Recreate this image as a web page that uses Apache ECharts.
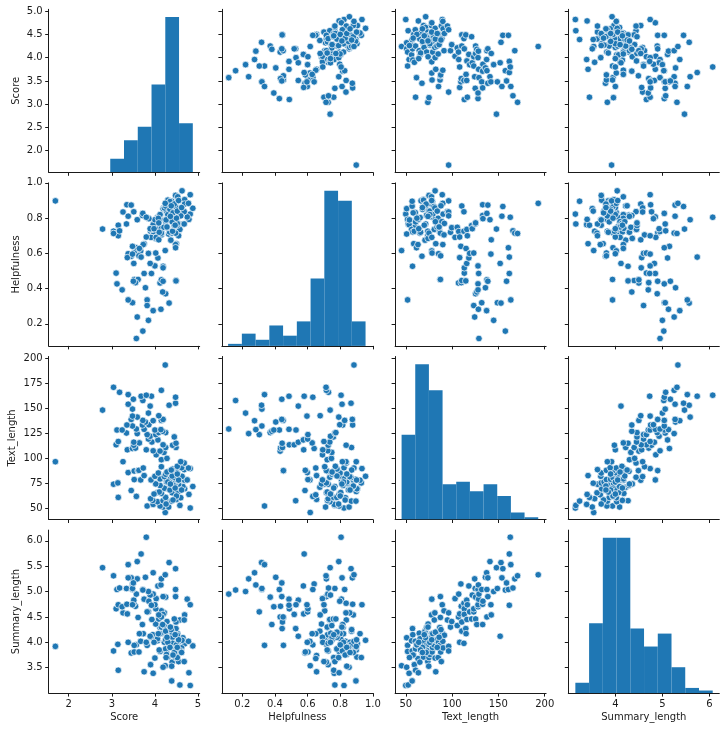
<!DOCTYPE html>
<html><head><meta charset="utf-8">
<script src="https://cdn.jsdelivr.net/npm/echarts@6/dist/echarts.min.js"></script>
<style>html,body{margin:0;padding:0;background:#fff}#c{width:726px;height:732px}</style>
</head><body><div id="c"></div>
<script>
// ---- data ----
const varNames = ['Score', 'Helpfulness', 'Text_length', 'Summary_length'];

const score = [
4.24,4.82,4.19,4.32,3.82,4.12,4.58,3.96,4.06,4.27,4.39,4.19,3.95,4.5,3.9,
4.6,3.15,4.25,3.57,4.48,4.79,4.15,4.4,4.06,4.54,3.45,4.69,4.3,4.22,4.37,4.45,4.88,4.65,4.12,3.04,4.55,4.02,4.39,
3.14,4.48,4.27,4.69,4.53,3.67,3.91,4.75,3.52,4.35,4.12,4.45,4.58,4.22,4.0,4.63,3.75,4.25,4.08,4.52,3.38,4.34,3.52,3.61,4.48,3.63,4.68,4.41,4.82,
3.73,4.78,4.62,4.15,4.52,4.68,1.69,3.26,4.6,4.15,4.28,4.03,
4.21,4.12,3.96,3.36,3.8,3.48,3.55,4.25,4.49,3.51,4.41,3.1,4.19,4.49,3.64,3.51,3.93,3.15,4.07,3.85,
4.45,3.89,3.82,4.02,3.59,3.34,4.09,4.25,4.18,3.12,3.24,4.0,4.14,3.75,3.57,3.48,3.35,3.71,3.86,
3.78,3.96,3.72,4.15,3.45,4.19,3.59,3.48,4.09,3.85,2.785,3.48,
3.89,4.33,3.38,4.48,3.72,3.5,4.48,3.68,3.92,3.8,3.38,3.18,4.15,3.04,4.24,
4.3,4.35,4.4,4.45,4.5,4.28,4.42,4.55,4.1,4.38,4.26,4.47,4.52,4.36,3.98,4.62
];

const helpfulness = [
.616,.823,.854,.71,.336,.793,.767,.763,.736,.868,.896,.527,.722,.655,.726,
.832,.76,.779,.632,.65,.793,.742,.715,.803,.898,.584,.905,.902,.86,.675,.876,.856,.767,.817,.726,.7,.685,.84,
.715,.929,.84,.88,.921,.614,.691,.807,.602,.894,.82,.866,.736,.858,.791,.955,.655,.75,.799,.76,.598,.722,.452,.452,.715,.586,.767,.78,.933,
.65,.884,.823,.705,.77,.837,.898,.835,.813,.72,.746,.691,
.748,.432,.724,.576,.693,.64,.434,.869,.446,.836,.726,.488,.518,.444,.628,.543,.736,.70,.574,.60,
.758,.74,.304,.602,.239,.767,.773,.371,.381,.427,.393,.529,.283,.486,.117,.32,.876,.815,.797,
.405,.275,.827,.45,.874,.442,.791,.596,.677,.22,.738,.32,
.543,.318,.811,.866,.159,.442,.632,.579,.486,.805,.336,.728,.715,.713,.884,
.82,.85,.78,.88,.8,.75,.83,.9,.72,.87,.79,.76,.84,.81,.74,.86
];

const textLength = [
45.5,50,51,51,52,52,52.6,53.6,56.3,56.9,56.9,57.3,57.6,58.6,59.3,
60.3,60.6,60.6,61.6,63.2,63.6,64.6,65.2,65.5,66.5,67.5,69.2,69.2,69.8,70.8,71.2,71.5,71.5,72.5,73.8,73.8,74.1,74.8,
75.1,75.1,76.1,77.8,77.8,78.1,78.1,78.1,78.4,78.8,79.1,80.4,80.8,81.4,81.7,81.7,82.4,83.7,85,85,85.4,86.7,87,87.4,87.4,87.7,88.4,89,89.4,
90,90,90.3,91.3,91.7,95,96.3,96.3,96.3,98.3,99.6,103.2,
105.6,106.9,107.2,108.2,108.2,109.5,109.9,110.5,110.5,112.8,112.8,113.2,113.2,114.8,115.1,115.8,116,116.5,118.1,119,
121.1,121.8,123.4,123.4,124.4,125,125.4,125.4,126.7,128,128,128,128.4,128.7,129,132,133,133,133.3,
136,137.3,137.6,137.6,138.6,138.6,140.9,141.9,142.3,144.9,147.9,148.9,
151.9,152.8,153.8,154.8,157.5,158.8,160.8,161.8,161.8,162.8,163.4,165.7,167.7,170.7,193,
76,68,82,72,62,86,58,78,66,88,54,70,84,74,64,68
];

const summaryLength = [
3.54,3.15,3.51,4.09,3.94,3.82,3.16,3.39,4.03,3.83,3.24,4.27,4.15,3.74,3.56,
4.02,3.45,3.87,3.95,3.68,3.40,4.18,3.61,4.07,3.85,3.79,3.97,3.71,4.0,4.22,3.89,3.93,4.09,4.29,3.83,3.62,4.36,3.53,
3.96,3.70,3.76,4.54,4.17,4.02,4.1,4.85,3.81,3.9,4.17,3.95,4.44,4.58,3.69,4.04,3.42,4.05,4.17,3.70,4.0,4.29,3.94,4.49,4.90,3.81,3.62,4.1,4.74,
4.17,4.02,3.89,4.62,4.14,4.44,3.92,4.58,3.83,4.3,4.41,4.86,
4.33,4.5,4.95,4.56,4.0,5.15,4.71,4.22,4.4,4.77,3.98,4.66,4.55,4.27,4.17,4.83,4.45,4.74,5.11,4.6,
4.46,4.93,4.6,4.66,5.25,5.06,4.46,4.89,4.35,5.04,4.7,4.74,5.13,4.85,4.95,5.04,4.75,4.35,4.81,
5.28,5.37,5.04,4.50,5.27,4.9,5.59,4.74,4.54,5.0,5.47,5.06,
4.12,5.57,5.27,5.45,5.03,5.17,5.04,5.74,4.73,6.07,5.53,5.07,5.25,5.31,5.33,
4.0,3.9,4.2,3.8,3.95,4.1,3.75,4.05,3.85,4.25,3.7,4.15,3.9,4.3,4.0,3.8
];

// histogram (diagonal) bar heights, 10 equal bins between each variable's min and max
const scoreHistCounts = [0,0,0,0,8,19,27,52,92,29];
const helpfulnessHistCounts = [1,6,3,10,5,12,33,76,71,12];
const textHistCounts = [36,66,55,15,16,12,15,10,3,1];
const summaryHistCounts = [4,27,60,60,25,18,23,10,2,1];
const histExtent = [[1.686,4.88],[0.113,0.955],[45.5,193],[3.15,6.07]];

// axis ranges & tick labels
const axisExtent = [[1.535,5.04],[0.075,1.0],[38.5,201.5],[3.0,6.21]];
const xTickValues = [[2,3,4,5],[0.2,0.4,0.6,0.8,1.0],[50,100,150,200],[4,5,6]];
const yTickValues = [[2,2.5,3,3.5,4,4.5,5],[0.2,0.4,0.6,0.8,1.0],[50,75,100,125,150,175,200],[3.5,4,4.5,5,5.5,6]];

// ---- layout / style ----
const LEFT0 = 48.7, COL_STEP = 173.2, GW = 151;
const TOP0 = 9.3, ROW_STEP = 173.6, GH = 163;
const BLUE = '#1f77b4';
const INK = '#1a1a1a';
const FONT = 'DejaVu Sans';

const vars = [score, helpfulness, textLength, summaryLength];
const hists = [scoreHistCounts, helpfulnessHistCounts, textHistCounts, summaryHistCounts];
const xFmt = [v=>String(Math.round(v)), v=>v.toFixed(1), v=>String(Math.round(v)), v=>String(Math.round(v))];
const yFmt = [v=>v.toFixed(1), v=>v.toFixed(1), v=>String(Math.round(v)), v=>v.toFixed(1)];
const yNameGap = [27, 27, 31, 27];

const grid = [], xAxis = [], yAxis = [], series = [];
for (let r = 0; r < 4; r++) {
  for (let c = 0; c < 4; c++) {
    const g = r * 4 + c;
    grid.push({left: LEFT0 + COL_STEP * c, top: TOP0 + ROW_STEP * r, width: GW, height: GH});
    xAxis.push({
      type: 'value', gridIndex: g, position: 'bottom',
      min: axisExtent[c][0], max: axisExtent[c][1],
      name: r === 3 ? varNames[c] : '', nameLocation: 'middle', nameGap: 19,
      nameTextStyle: {fontSize: 10, color: INK, fontFamily: FONT},
      axisLine: {show: true, onZero: false, lineStyle: {color: INK, width: 1}},
      axisTick: {show: true, length: 3.5, inside: false, customValues: xTickValues[c], lineStyle: {color: INK, width: 1}},
      axisLabel: {show: r === 3, customValues: xTickValues[c], formatter: xFmt[c], color: INK, fontSize: 10, fontFamily: FONT, margin: 6},
      splitLine: {show: false}
    });
    yAxis.push({
      type: 'value', gridIndex: g, position: 'left',
      min: axisExtent[r][0], max: axisExtent[r][1],
      name: c === 0 ? varNames[r] : '', nameLocation: 'middle', nameGap: yNameGap[r],
      nameTextStyle: {fontSize: 10, color: INK, fontFamily: FONT},
      axisLine: {show: true, onZero: false, lineStyle: {color: INK, width: 1}},
      axisTick: {show: true, length: 3.5, inside: false, customValues: yTickValues[r], lineStyle: {color: INK, width: 1}},
      axisLabel: {show: c === 0, customValues: yTickValues[r], formatter: yFmt[r], color: INK, fontSize: 10, fontFamily: FONT, margin: 6},
      splitLine: {show: false}
    });
  }
}

// hidden count axes for the diagonal histograms
for (let d = 0; d < 4; d++) {
  const maxC = Math.max(...hists[d]);
  yAxis.push({
    type: 'value', gridIndex: d * 5, min: 0, max: maxC * 1.05, show: false,
    axisLine: {show: false}, axisTick: {show: false}, axisLabel: {show: false}, splitLine: {show: false}
  });
}

for (let r = 0; r < 4; r++) {
  for (let c = 0; c < 4; c++) {
    const g = r * 4 + c;
    if (r === c) {
      const [lo, hi] = histExtent[c];
      const n = hists[c].length, w = (hi - lo) / n;
      const data = hists[c].map((cnt, i) => [lo + i * w, lo + (i + 1) * w, cnt]);
      series.push({
        type: 'custom', xAxisIndex: g, yAxisIndex: 16 + r, silent: true, clip: true,
        encode: {x: [0, 1], y: 2},
        data: data,
        renderItem: function (params, api) {
          const p0 = api.coord([api.value(0), 0]);
          const p1 = api.coord([api.value(1), api.value(2)]);
          return {type: 'rect', shape: {x: p0[0], y: p1[1], width: p1[0] - p0[0], height: p0[1] - p1[1]},
                  style: {fill: BLUE}};
        }
      });
    } else {
      const data = vars[c].map((v, i) => [v, vars[r][i]]);
      series.push({
        type: 'scatter', xAxisIndex: g, yAxisIndex: g, silent: true,
        symbol: 'circle', symbolSize: 6.6,
        itemStyle: {color: BLUE, borderColor: '#ffffff', borderWidth: 0.7, opacity: 1},
        data: data
      });
    }
  }
}

const chart = echarts.init(document.getElementById('c'), null, {renderer: 'canvas', width: 726, height: 732});
chart.setOption({animation: false, backgroundColor: '#ffffff', grid, xAxis, yAxis, series});
</script>
</body></html>
